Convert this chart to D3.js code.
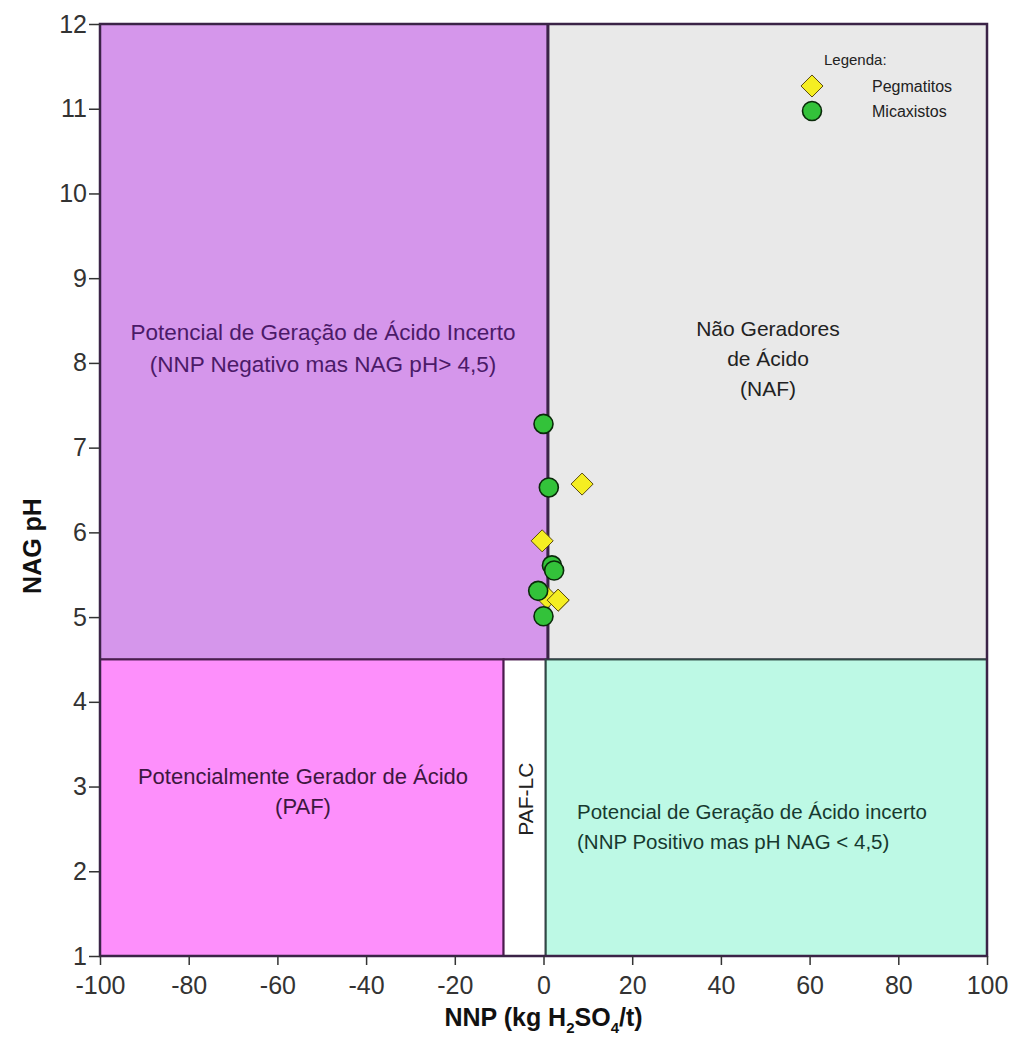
<!DOCTYPE html>
<html>
<head>
<meta charset="utf-8">
<script src="https://cdn.jsdelivr.net/npm/d3@7"></script>
<style>
body { margin: 0; background: #fff; }
svg text { font-family: "Liberation Sans", Arial, sans-serif; }
</style>
</head>
<body>
<div id="chart"></div>
<script>
// data
var xTicks = [-100, -80, -60, -40, -20, 0, 20, 40, 60, 80, 100];
var yTicks = [1, 2, 3, 4, 5, 6, 7, 8, 9, 10, 11, 12];

var pegNNP = [8.7, -0.3, 3.3, 0.8];
var pegPH = [6.57, 5.9, 5.2, 5.23];
var micNNP = [0, 1.2, 1.9, 2.4, -1.2, 0];
var micPH = [7.28, 6.53, 5.61, 5.55, 5.31, 5.01];

// zones
var zoneNames = ["incertoNeg", "naf", "paf", "paflc", "incertoPos"];
var zoneX0 = [-100, 1, -100, -9, 0.5];
var zoneX1 = [1, 100, -9, 0.5, 100];
var zoneY0 = [4.5, 4.5, 1, 1, 1];
var zoneY1 = [12, 12, 4.5, 4.5, 4.5];
var zoneFill = ["#d596eb", "#e9e9e9", "#fd8ffb", "#ffffff", "#bdf9e5"];
var zoneStroke = ["#3b2347", "#3b2347", "#4a1c4e", "#4a1c4e", "#2f4a44"];

var W = 1014, H = 1039;
var margin = {left: 100, right: 27, top: 24, bottom: 83};

var svg = d3.select("#chart").append("svg").attr("width", W).attr("height", H);

var x = d3.scaleLinear().domain([-100, 100]).range([margin.left, W - margin.right]);
var y = d3.scaleLinear().domain([1, 12]).range([H - margin.bottom, margin.top]);

var zones = zoneNames.map(function (n, i) {
    return {name: n, x0: zoneX0[i], x1: zoneX1[i], y0: zoneY0[i], y1: zoneY1[i], fill: zoneFill[i], stroke: zoneStroke[i]};
});

svg.selectAll("rect.zone").data(zones).enter().append("rect")
    .attr("class", "zone")
    .attr("x", function (d) { return x(d.x0); })
    .attr("y", function (d) { return y(d.y1); })
    .attr("width", function (d) { return x(d.x1) - x(d.x0); })
    .attr("height", function (d) { return y(d.y0) - y(d.y1); })
    .style("fill", function (d) { return d.fill; })
    .style("stroke", function (d) { return d.stroke; })
    .style("stroke-width", 2);

// thick divider at NNP ~ 1 in the upper half
svg.append("line")
    .attr("x1", x(1)).attr("x2", x(1))
    .attr("y1", y(12)).attr("y2", y(4.5))
    .style("stroke", "#3b2347").style("stroke-width", 3);

// outer frame
svg.append("rect")
    .attr("x", x(-100)).attr("y", y(12))
    .attr("width", x(100) - x(-100)).attr("height", y(1) - y(12))
    .style("fill", "none").style("stroke", "#3b2347").style("stroke-width", 2.5);

// axes
var fmt = function (d) { return String(d); };
var xAxis = svg.append("g").attr("transform", "translate(0," + y(1) + ")")
    .call(d3.axisBottom(x).tickValues(xTicks).tickSize(9).tickFormat(fmt));
var yAxis = svg.append("g").attr("transform", "translate(" + x(-100) + ",0)")
    .call(d3.axisLeft(y).tickValues(yTicks).tickSize(11).tickFormat(fmt));

[xAxis, yAxis].forEach(function (a) {
    a.select(".domain").remove();
    a.attr("font-size", null).attr("font-family", null);
    a.selectAll(".tick line").style("stroke", "#333").style("stroke-width", 1.5);
    a.selectAll(".tick text").style("font-size", "25px").style("fill", "#333");
});
xAxis.selectAll(".tick text").attr("y", 0).attr("dy", null).attr("transform", "translate(0,38)");
yAxis.selectAll(".tick text").attr("x", -13);

// axis titles
var xt = svg.append("text").attr("x", x(0)).attr("y", 1026)
    .attr("text-anchor", "middle")
    .style("font-size", "25px").style("font-weight", "bold").style("fill", "#111");
xt.append("tspan").text("NNP (kg H");
xt.append("tspan").text("2").attr("dy", 7).style("font-size", "15px");
xt.append("tspan").text("SO").attr("dy", -7);
xt.append("tspan").text("4").attr("dy", 7).style("font-size", "15px");
xt.append("tspan").text("/t)").attr("dy", -7);

svg.append("text")
    .attr("transform", "translate(41,546) rotate(-90)")
    .attr("text-anchor", "middle")
    .style("font-size", "25px").style("font-weight", "bold").style("fill", "#111")
    .text("NAG pH");

// zone labels
function label(lines, cx, cy, color, size, lh, anchor) {
    var t = svg.append("text").attr("text-anchor", anchor || "middle")
        .style("font-size", size + "px").style("fill", color);
    lines.forEach(function (s, i) {
        t.append("tspan").attr("x", cx).attr("y", cy + i * lh).text(s);
    });
}
label(["Potencial de Geração de Ácido Incerto", "(NNP Negativo mas NAG pH> 4,5)"],
    323, 340, "#4b1a68", 22.5, 32);
label(["Não Geradores", "de Ácido", "(NAF)"], 768, 336, "#222", 21, 30);
label(["Potencialmente Gerador de Ácido", "(PAF)"], 303, 784, "#3d1740", 22, 30);
label(["Potencial de Geração de Ácido incerto", "(NNP Positivo mas pH NAG < 4,5)"],
    577, 819, "#17392f", 20.5, 30, "start");

svg.append("text")
    .attr("transform", "translate(" + (x(-4.2) + 8) + "," + y(2.85) + ") rotate(-90)")
    .attr("text-anchor", "middle")
    .style("font-size", "21px").style("fill", "#222")
    .text("PAF-LC");

// points
var diamond = d3.symbol().type(d3.symbolDiamond2).size(310);
var mic = micNNP.map(function (v, i) { return {x: v, y: micPH[i]}; });
var peg = pegNNP.map(function (v, i) { return {x: v, y: pegPH[i]}; });

svg.selectAll("path.peg").data(peg).enter().append("path")
    .attr("class", "peg").attr("d", diamond)
    .attr("transform", function (d) { return "translate(" + x(d.x) + "," + y(d.y) + ")"; })
    .style("fill", "#f5ee22").style("stroke", "#5a4a10").style("stroke-width", 1);

svg.selectAll("circle.mic").data(mic).enter().append("circle")
    .attr("class", "mic").attr("r", 9.5)
    .attr("cx", function (d) { return x(d.x); })
    .attr("cy", function (d) { return y(d.y); })
    .style("fill", "#33c23a").style("stroke", "#0a2a0a").style("stroke-width", 1.6);

// the diamond at NNP 3.3 sits in front of the circles
svg.append("path").attr("d", diamond)
    .attr("transform", "translate(" + x(pegNNP[2]) + "," + y(pegPH[2]) + ")")
    .style("fill", "#f5ee22").style("stroke", "#5a4a10").style("stroke-width", 1);

// legend
var leg = svg.append("g").attr("transform", "translate(812,60)");
leg.append("text").attr("x", 12).attr("y", 5).style("font-size", "15px").style("fill", "#222").text("Legenda:");
leg.append("path").attr("d", diamond).attr("transform", "translate(0,26)")
    .style("fill", "#f5ee22").style("stroke", "#5a4a10");
leg.append("circle").attr("cx", 0).attr("cy", 51).attr("r", 9.5)
    .style("fill", "#33c23a").style("stroke", "#0a2a0a").style("stroke-width", 1.6);
leg.append("text").attr("x", 60).attr("y", 32).style("font-size", "16px").style("fill", "#222").text("Pegmatitos");
leg.append("text").attr("x", 60).attr("y", 57).style("font-size", "16px").style("fill", "#222").text("Micaxistos");
</script>
</body>
</html>
